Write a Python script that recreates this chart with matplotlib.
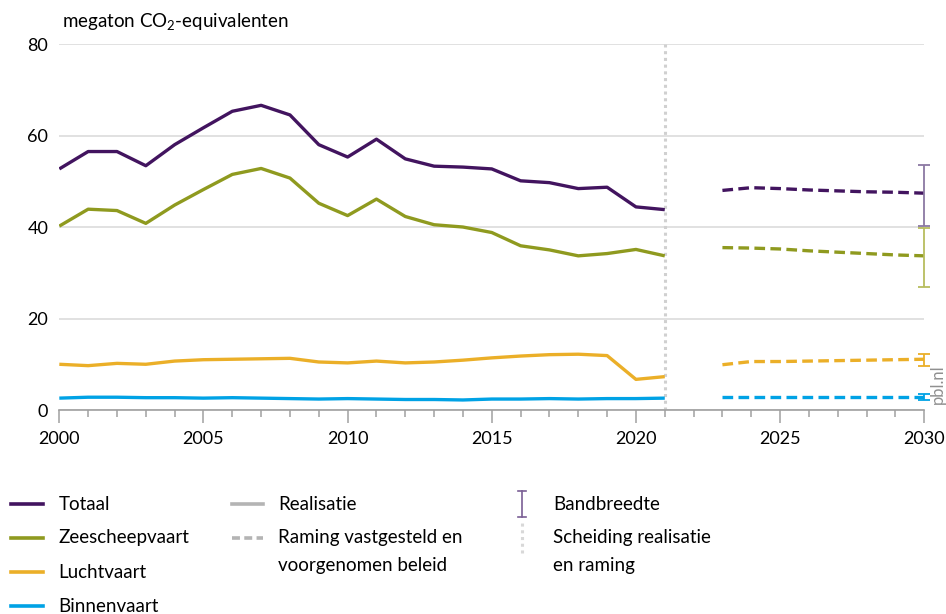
import numpy as np
import matplotlib.pyplot as plt
from matplotlib.lines import Line2D
from matplotlib.ticker import MultipleLocator

plt.rcParams['font.family'] = ['Lato', 'DejaVu Sans']
plt.rcParams['mathtext.fontset'] = 'custom'
plt.rcParams['mathtext.rm'] = 'Lato'

# realisatie 2000-2021
jaren = list(range(2000, 2022))
totaal = [52.7, 56.5, 56.5, 53.4, 58.0, 61.7, 65.3, 66.6, 64.5, 58.0, 55.3,
          59.2, 54.9, 53.3, 53.1, 52.7, 50.1, 49.7, 48.4, 48.7, 44.4, 43.8]
zeescheepvaart = [40.2, 43.9, 43.6, 40.8, 44.8, 48.2, 51.5, 52.8, 50.7, 45.2, 42.5,
                  46.1, 42.3, 40.5, 40.0, 38.8, 35.9, 35.0, 33.7, 34.2, 35.1, 33.7]
luchtvaart = [10.0, 9.7, 10.2, 10.0, 10.7, 11.0, 11.1, 11.2, 11.3, 10.5, 10.3,
              10.7, 10.3, 10.5, 10.9, 11.4, 11.8, 12.1, 12.2, 11.9, 6.7, 7.3]
binnenvaart = [2.6, 2.8, 2.8, 2.7, 2.7, 2.6, 2.7, 2.6, 2.5, 2.4, 2.5,
               2.4, 2.3, 2.3, 2.2, 2.4, 2.4, 2.5, 2.4, 2.5, 2.5, 2.6]

# raming 2023-2030
jaren_raming = list(range(2023, 2031))
totaal_raming = [48.0, 48.6, 48.4, 48.1, 47.9, 47.7, 47.6, 47.4]
zee_raming = [35.5, 35.4, 35.2, 34.8, 34.5, 34.2, 33.9, 33.7]
lucht_raming = [9.9, 10.6, 10.6, 10.7, 10.8, 10.9, 11.0, 11.1]
binnen_raming = [2.9, 2.9, 2.9, 2.9, 2.9, 2.9, 2.9, 2.9]

# bandbreedte 2030 (onder, boven)
band_totaal = (40.2, 53.6)
band_zee = (26.8, 39.7)
band_lucht = (9.6, 12.2)
band_binnen = (2.2, 3.5)

paars = '#42145f'
olijf = '#8f9a1f'
geel = '#ebaf28'
blauw = '#00a2e5'
grijs = '#b4b4b4'

fig = plt.figure(figsize=(9.46, 6.14), dpi=100)
ax = fig.add_axes([0.0627, 0.3322, 0.9143, 0.5961])

series = [
    (totaal, totaal_raming, band_totaal, paars, '#8b78a3'),
    (zeescheepvaart, zee_raming, band_zee, olijf, '#b8bd5e'),
    (luchtvaart, lucht_raming, band_lucht, geel, geel),
    (binnenvaart, binnen_raming, band_binnen, blauw, blauw),
]
for hist, raming, band, kleur, bandkleur in series:
    ax.plot(jaren, hist, color=kleur, lw=2.4, solid_capstyle='butt', zorder=3)
    ax.plot(jaren_raming, raming, color=kleur, lw=2.4, dashes=(3.2, 1.6), zorder=3)
    ax.errorbar([2030], [(band[0] + band[1]) / 2], yerr=[[(band[1] - band[0]) / 2]],
                fmt='none', ecolor=bandkleur, elinewidth=1.3, capsize=4, capthick=1.3,
                clip_on=False, zorder=4)

ax.axvline(2021, color='#d0d0d0', lw=2.2, ls=(0, (1, 1.2)), zorder=2)

ax.set_xlim(2000, 2030)
ax.set_ylim(0, 80)
ax.set_yticks([0, 20, 40, 60, 80])
ax.xaxis.set_major_locator(MultipleLocator(5))
ax.xaxis.set_minor_locator(MultipleLocator(1))
ax.grid(axis='y', color='#dcdcdc', lw=1.2)
ax.set_axisbelow(True)
for s in ['top', 'right', 'left']:
    ax.spines[s].set_visible(False)
ax.spines['bottom'].set_color('#a0a0a0')
ax.spines['bottom'].set_linewidth(1.2)
ax.tick_params(axis='y', length=0, labelsize=13, pad=8)
ax.tick_params(axis='x', which='major', length=9, width=1.1, color='#a0a0a0',
               labelsize=13, pad=6)
ax.tick_params(axis='x', which='minor', length=5, width=1.1, color='#a0a0a0')

fig.text(0.0655, 0.963, 'megaton CO$_2$-equivalenten', fontsize=13.5, va='center')
fig.text(0.991, 0.375, 'pbl.nl', rotation=90, color='#909090', fontsize=12,
         ha='center', va='center')

# legenda
def leg_lijn(x, y, kleur, **kw):
    fig.add_artist(Line2D([x, x + 0.033], [y, y], color=kleur, lw=2.6,
                          transform=fig.transFigure, **kw))

rijen = [1 - 504 / 614, 1 - 538 / 614, 1 - 572 / 614, 1 - 606 / 614]
for y, kleur, naam in zip(rijen, [paars, olijf, geel, blauw],
                          ['Totaal', 'Zeescheepvaart', 'Luchtvaart', 'Binnenvaart']):
    leg_lijn(0.012, y, kleur)
    fig.text(0.062, y, naam, fontsize=13.5, va='center')

leg_lijn(0.245, rijen[0], grijs)
fig.text(0.294, rijen[0], 'Realisatie', fontsize=13.5, va='center')
leg_lijn(0.245, rijen[1], grijs, dashes=(2.2, 1.2))
fig.text(0.294, rijen[1], 'Raming vastgesteld en', fontsize=13.5, va='center')
fig.text(0.294, rijen[2] + 0.01, 'voorgenomen beleid', fontsize=13.5, va='center')

bx = 522 / 946
fig.add_artist(Line2D([bx, bx], [rijen[0] - 0.021, rijen[0] + 0.021], color='#7a5f95',
                      lw=1.2, transform=fig.transFigure))
for dy in (-0.021, 0.021):
    fig.add_artist(Line2D([bx - 0.004, bx + 0.004], [rijen[0] + dy] * 2, color='#7a5f95',
                          lw=1.2, transform=fig.transFigure))
fig.text(0.585, rijen[0], 'Bandbreedte', fontsize=13.5, va='center')
fig.add_artist(Line2D([bx, bx], [rijen[1] - 0.025, rijen[1] + 0.025], color='#d8d8d8',
                      lw=2.2, ls=(0, (1, 1.2)), transform=fig.transFigure))
fig.text(0.585, rijen[1], 'Scheiding realisatie', fontsize=13.5, va='center')
fig.text(0.585, rijen[2] + 0.01, 'en raming', fontsize=13.5, va='center')

fig.savefig('out.png', dpi=100)
